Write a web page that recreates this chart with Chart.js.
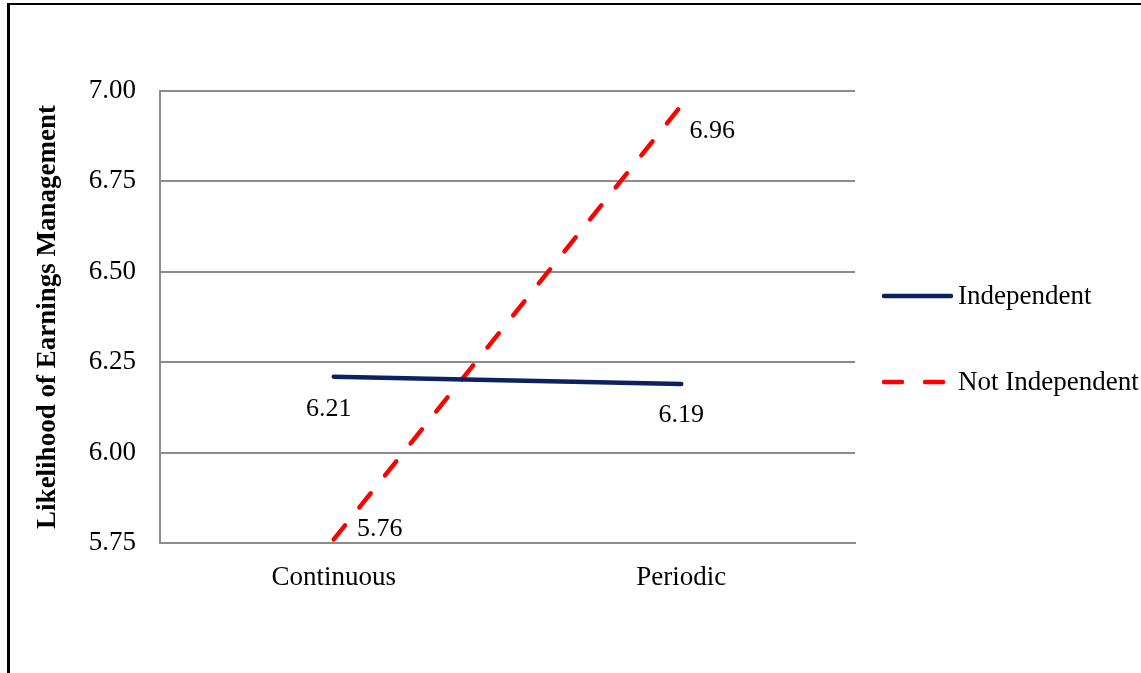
<!DOCTYPE html>
<html>
<head>
<meta charset="utf-8">
<script src="https://cdn.jsdelivr.net/npm/chart.js@4/dist/chart.umd.min.js"></script>
<style>
    html, body { margin: 0; padding: 0; background: #fff; overflow: hidden; }
    #moldura { position: absolute; left: 7px; top: 3px; width: 1300px; height: 800px; border-top: 2px solid #000; border-left: 3px solid #000; }
    #grafico { position: absolute; left: 0; top: 0; }
</style>
</head>
<body>
<div id="moldura"></div>
<canvas id="grafico" width="1141" height="673"></canvas>
<script>
// Dados do gráfico
const categorias = ['Continuous', 'Periodic'];
const nomesSeries = ['Independent', 'Not Independent'];
const independente = [6.21, 6.19];
const naoIndependente = [5.76, 6.96];
const ticksY = [5.75, 6.00, 6.25, 6.50, 6.75, 7.00];
const tituloY = 'Likelihood of Earnings Management';

const fonte = "'Liberation Serif', 'Times New Roman', serif";
Chart.defaults.font.family = fonte;
Chart.defaults.font.size = 27;
Chart.defaults.color = '#000';

// Rótulos de valor ao lado dos pontos
const pluginRotulos = {
    id: 'rotulos',
    afterDatasetsDraw(chart) {
        const ctx = chart.ctx;
        ctx.save();
        ctx.font = `26px ${fonte}`;
        ctx.fillStyle = '#000';
        ctx.textAlign = 'center';
        ctx.textBaseline = 'middle';
        chart.data.datasets.forEach(function (ds, i) {
            const meta = chart.getDatasetMeta(i);
            meta.data.forEach(function (pt, j) {
                const off = ds.deslocRotulo[j];
                ctx.fillText(ds.data[j].toFixed(2), pt.x + off.dx, pt.y + off.dy);
            });
        });
        ctx.restore();
    }
};

// Legenda desenhada à direita
const pluginLegenda = {
    id: 'legendaDireita',
    afterDraw(chart) {
        const ctx = chart.ctx;
        const posY = [296, 382];
        ctx.save();
        chart.data.datasets.forEach(function (ds, i) {
            ctx.beginPath();
            ctx.strokeStyle = ds.borderColor;
            ctx.lineWidth = ds.borderWidth;
            ctx.lineCap = 'round';
            ctx.setLineDash(ds.borderDash || []);
            ctx.moveTo(884, posY[i]);
            ctx.lineTo(951, posY[i]);
            ctx.stroke();
            ctx.setLineDash([]);
            ctx.font = `27px ${fonte}`;
            ctx.fillStyle = '#000';
            ctx.textAlign = 'left';
            ctx.textBaseline = 'middle';
            ctx.fillText(ds.label, 958, posY[i] + 1);
        });
        ctx.restore();
    }
};

const dados = {
    labels: categorias,
    datasets: [{
        label: nomesSeries[0],
        data: independente,
        borderColor: '#0b2260',
        borderWidth: 4.5,
        borderCapStyle: 'round',
        pointRadius: 0,
        tension: 0,
        deslocRotulo: [{ dx: -5, dy: 33 }, { dx: 0, dy: 31 }]
    }, {
        label: nomesSeries[1],
        data: naoIndependente,
        borderColor: '#ff0000',
        borderWidth: 4.5,
        borderDash: [18, 23],
        borderCapStyle: 'round',
        pointRadius: 0,
        tension: 0,
        deslocRotulo: [{ dx: 46, dy: -10 }, { dx: 31, dy: 26 }]
    }]
};

const config = {
    type: 'line',
    data: dados,
    options: {
        responsive: false,
        animation: false,
        devicePixelRatio: 1,
        layout: { padding: { top: 91, right: 286, bottom: 0, left: 0 } },
        plugins: {
            legend: { display: false },
            tooltip: { enabled: false }
        },
        scales: {
            x: {
                offset: true,
                grid: { display: false, drawTicks: false },
                border: { display: true, color: '#8c8c8c', width: 2 },
                ticks: { padding: 19, font: { size: 27 } },
                afterFit: function (s) { s.height = 130; }
            },
            y: {
                min: 5.75,
                max: 7.0,
                afterBuildTicks: function (s) { s.ticks = ticksY.map(v => ({ value: v })); },
                grid: { color: '#8c8c8c', lineWidth: 2, drawTicks: false },
                border: { display: true, color: '#8c8c8c', width: 2 },
                ticks: { padding: 24, font: { size: 27 }, callback: v => Number(v).toFixed(2) },
                title: {
                    display: true,
                    text: tituloY,
                    font: { size: 27, weight: 'bold' },
                    padding: { top: 32, bottom: 0 }
                },
                afterFit: function (s) { s.width = 160; }
            }
        }
    },
    plugins: [pluginRotulos, pluginLegenda]
};

new Chart(document.getElementById('grafico'), config);
</script>
</body>
</html>
